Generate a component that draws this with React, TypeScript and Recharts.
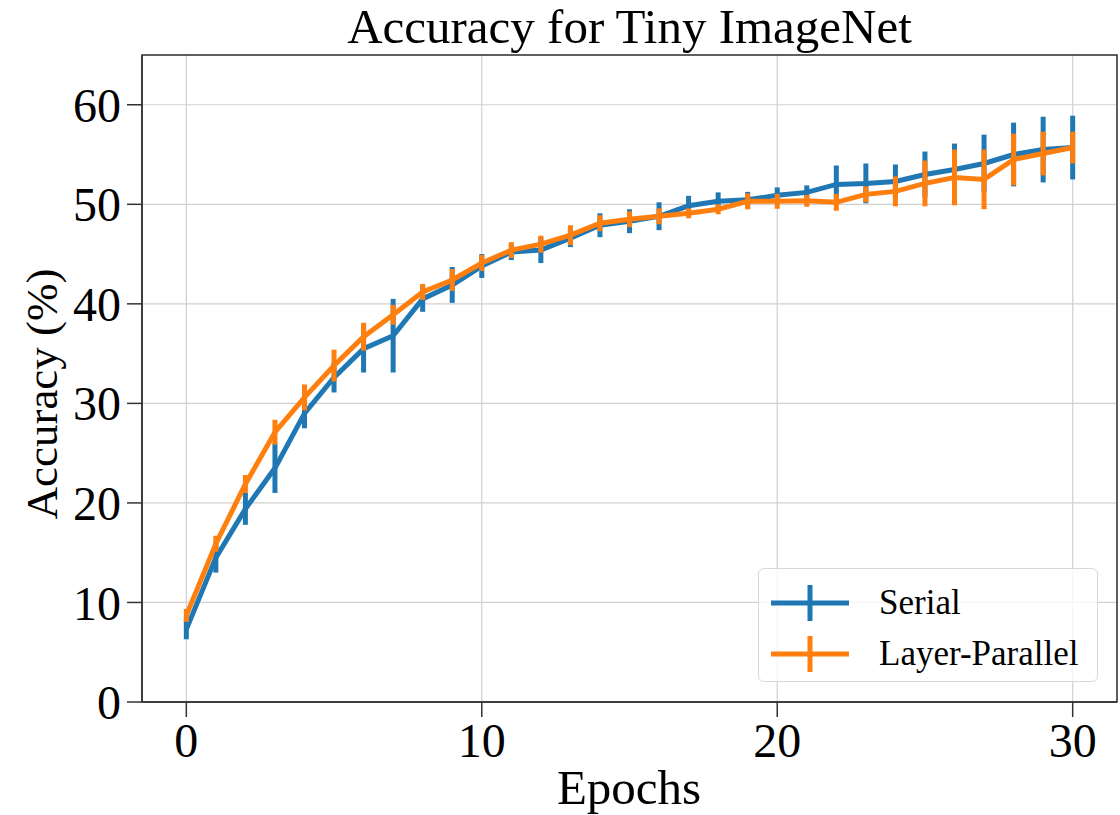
import React from "react";
import {
  LineChart,
  Line,
  XAxis,
  YAxis,
  CartesianGrid,
  ErrorBar,
  ReferenceArea,
} from "recharts";

const epochs = [
  0, 1, 2, 3, 4, 5, 6, 7, 8, 9, 10, 11, 12, 13, 14, 15, 16, 17, 18, 19, 20, 21, 22, 23, 24, 25, 26, 27, 28, 29, 30,
];

const serial = [
  7.3, 14.5, 19.4, 23.5, 29.0, 32.6, 35.5, 36.8, 40.5, 41.9, 43.8, 45.2, 45.4, 46.6, 47.9, 48.3, 48.8, 49.85, 50.3,
  50.45, 50.9, 51.2, 52.0, 52.1, 52.3, 53.0, 53.5, 54.1, 55.0, 55.5, 55.7,
];
const serialErr = [
  1.0, 1.5, 1.6, 2.5, 1.5, 1.5, 2.4, 3.7, 1.3, 1.8, 1.2, 0.8, 1.3, 0.9, 1.2, 1.2, 1.4, 1.0, 0.9, 0.8, 0.8, 0.7, 1.9,
  2.0, 1.7, 2.3, 2.6, 2.9, 3.2, 3.3, 3.2,
];

const layerParallel = [
  8.7, 15.9, 21.9, 27.1, 30.6, 33.8, 36.7, 38.9, 41.2, 42.4, 44.1, 45.4, 46.0, 46.9, 48.1, 48.5, 48.8, 49.1, 49.5,
  50.3, 50.3, 50.35, 50.2, 51.0, 51.3, 52.1, 52.7, 52.5, 54.5, 55.1, 55.7,
];
const layerParallelErr = [
  0.65, 0.8, 0.9, 1.25, 1.3, 1.6, 1.4, 1.0, 0.8, 1.1, 0.8, 0.8, 0.85, 1.0, 0.8, 0.8, 0.8, 0.5, 0.5, 0.8, 0.75, 0.6,
  0.85, 0.8, 1.5, 2.3, 2.8, 3.0, 2.6, 2.2, 1.6,
];

const xTicks = [0, 10, 20, 30];
const yTicks = [0, 10, 20, 30, 40, 50, 60];

const BLUE = "#1f77b4";
const ORANGE = "#ff7f0e";
const FONT = "'Liberation Serif', 'DejaVu Serif', serif";

const data = epochs.map((e, i) => ({
  epoch: e,
  serial: serial[i],
  serialErr: serialErr[i],
  lp: layerParallel[i],
  lpErr: layerParallelErr[i],
}));

function LegendHandle({ color }: { color: string }) {
  return (
    <svg width={80} height={40} style={{ display: "block" }}>
      <line x1={0} y1={20} x2={78} y2={20} stroke={color} strokeWidth={5} />
      <line x1={39} y1={2} x2={39} y2={38} stroke={color} strokeWidth={5} />
    </svg>
  );
}

export default function App() {
  const tickStyle = { fontSize: 48, fill: "#000", fontFamily: FONT };
  return (
    <div
      style={{
        position: "absolute",
        left: 0,
        top: 0,
        width: 1120,
        height: 815,
        background: "#fff",
        fontFamily: FONT,
      }}
    >
      <div
        style={{
          position: "absolute",
          left: 0,
          width: 1259,
          top: 2,
          textAlign: "center",
          fontSize: 49,
          lineHeight: 1,
          color: "#000",
        }}
      >
        Accuracy for Tiny ImageNet
      </div>

      <LineChart width={1120} height={815} data={data} margin={{ top: 55, right: 3, bottom: 0, left: 0 }}>
        <CartesianGrid stroke="#d0d0d0" strokeWidth={1.2} />
        <XAxis
          dataKey="epoch"
          type="number"
          domain={[-1.5, 31.5]}
          ticks={xTicks}
          allowDataOverflow
          height={113}
          tickSize={15}
          tickMargin={6}
          tick={tickStyle}
          axisLine={{ stroke: "#333", strokeWidth: 1.5 }}
          tickLine={{ stroke: "#333", strokeWidth: 1.5 }}
        />
        <YAxis
          type="number"
          domain={[0, 65]}
          ticks={yTicks}
          allowDataOverflow
          width={142}
          tickSize={15}
          tickMargin={6}
          tick={tickStyle}
          axisLine={{ stroke: "#333", strokeWidth: 1.5 }}
          tickLine={{ stroke: "#333", strokeWidth: 1.5 }}
        />
        <ReferenceArea x1={-1.5} x2={31.5} y1={0} y2={65} fill="none" stroke="#333" strokeWidth={1.5} />
        <Line
          dataKey="serial"
          stroke={BLUE}
          strokeWidth={5}
          dot={false}
          isAnimationActive={false}
        >
          <ErrorBar dataKey="serialErr" direction="y" width={0} stroke={BLUE} strokeWidth={5} isAnimationActive={false} />
        </Line>
        <Line
          dataKey="lp"
          stroke={ORANGE}
          strokeWidth={5}
          dot={false}
          isAnimationActive={false}
        >
          <ErrorBar dataKey="lpErr" direction="y" width={0} stroke={ORANGE} strokeWidth={5} isAnimationActive={false} />
        </Line>
      </LineChart>

      <div
        style={{
          position: "absolute",
          left: 629,
          top: 763,
          transform: "translateX(-50%)",
          fontSize: 49,
          lineHeight: 1,
          color: "#000",
          whiteSpace: "nowrap",
        }}
      >
        Epochs
      </div>
      <div
        style={{
          position: "absolute",
          left: 42,
          top: 394,
          transform: "translate(-50%, -50%) rotate(-90deg)",
          fontSize: 45,
          lineHeight: 1,
          color: "#000",
          whiteSpace: "nowrap",
        }}
      >
        Accuracy (%)
      </div>

      <div
        style={{
          position: "absolute",
          left: 758,
          top: 568,
          width: 340,
          height: 114,
          border: "1.5px solid #d8d8d8",
          borderRadius: 6,
          background: "rgba(255,255,255,0.8)",
          boxSizing: "border-box",
          padding: "8px 0 0 12px",
        }}
      >
        {[
          { label: "Serial", color: BLUE },
          { label: "Layer-Parallel", color: ORANGE },
        ].map((it) => (
          <div key={it.label} style={{ display: "flex", alignItems: "center", height: 51 }}>
            <LegendHandle color={it.color} />
            <span style={{ marginLeft: 28, fontSize: 35, color: "#000", lineHeight: 1 }}>{it.label}</span>
          </div>
        ))}
      </div>
    </div>
  );
}
